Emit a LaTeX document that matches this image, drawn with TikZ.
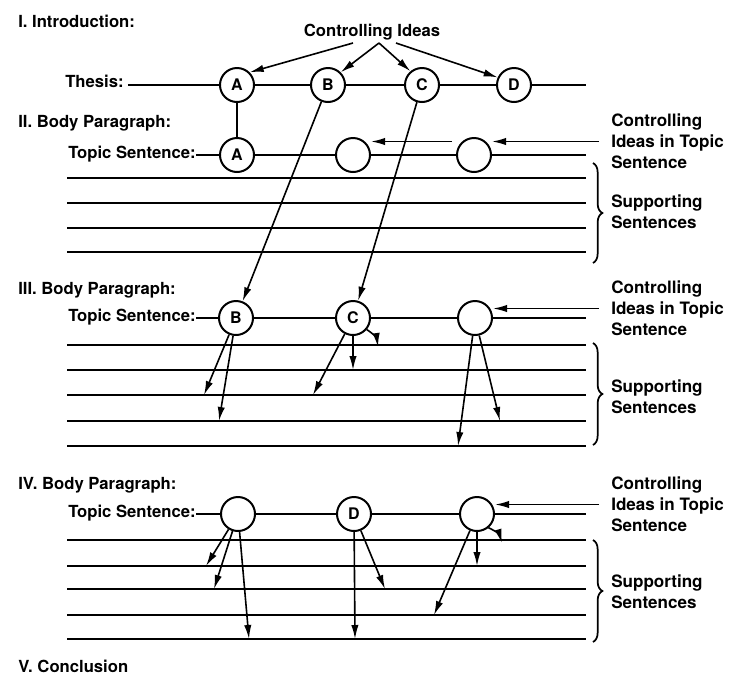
\documentclass[tikz,border=0pt]{standalone}
\usepackage{fontspec}
\setmainfont{TeX Gyre Heros}
\usetikzlibrary{arrows.meta,decorations.pathreplacing}

\tikzset{
  head/.style={font=\fontsize{12.5}{15}\selectfont\bfseries, inner sep=0pt, anchor=base west},
  idea/.style={circle, draw, line width=1.5pt, minimum size=25.5pt, inner sep=0pt,
    font=\fontsize{12}{14}\selectfont\bfseries},
  note/.style={font=\fontsize{12.8}{15.75}\selectfont\bfseries, align=left,
    inner xsep=9pt, inner ysep=0pt, anchor=west},
  topic/.style={line width=1.4pt},
  rule/.style={line width=1.7pt},
  pointer/.style={line width=1.2pt, -{Latex[length=10.5pt,width=5.5pt]}},
  curly/.style={line width=1.3pt, decorate, decoration={brace, amplitude=7pt}},
}

\begin{document}
\begin{tikzpicture}[x=0.75pt, y=-0.75pt]
  \useasboundingbox (0,0) rectangle (732,676);

  % I. introduction with the thesis
  \node[head] (intro) at (18,27) {I. Introduction:};
  \node[head, anchor=base] (ideas) at (372,36.5) {Controlling Ideas};
  \node[head] (thesis) at (65,87) {Thesis:};
  \node[idea] (A) at (237,85) {A};
  \node[idea] (B) at (328,85) {B};
  \node[idea] (C) at (422,85) {C};
  \node[idea] (D) at (514,85) {D};
  \coordinate (e1) at (586,85);
  \draw[topic] (thesis.east |- A) ++(4,0) -- (A) -- (B) -- (C) -- (D) -- (e1);

  \coordinate (ciA) at (353,43);
  \coordinate (ciB) at (379,43);
  \coordinate (ciD) at (396,43);
  \draw[pointer] (ciA) -- (A.45);
  \draw[pointer] (ciB) -- (B.45);
  \draw[pointer] (ciB) -- (C.130);
  \draw[pointer] (ciD) -- (D.155);

  % II. body paragraph
  \node[head] (body2) at (18,127) {II. Body Paragraph:};
  \node[head] (ts2) at (68,158.5) {Topic Sentence:};
  \node[idea] (A2) at (237,155) {A};
  \node[idea] (Y2) at (353,155) {};
  \node[idea] (Z2) at (474,155) {};
  \coordinate (e2) at (586,155);
  \draw[topic] (ts2.east |- A2) -- (A2) -- (Y2) -- (Z2) -- (e2);
  \draw[topic] (A) -- (A2);
  \node[note] (ctl2) at (599,141.5) {Controlling\\Ideas in Topic\\Sentence};
  \draw[pointer] (ctl2.west) -- (ctl2.west -| Z2.east);
  \draw[pointer] (Z2.west |- ctl2.west) ++(-4,0) -- (ctl2.west -| Y2.east);
  \foreach \y in {178,203,228,252}
    \draw[rule] (67,\y) -- (586,\y);
  \draw[curly] (593,163) -- (593,263);
  \node[note] (sup2) at (599,212) {Supporting\\Sentences};

  % III. body paragraph
  \node[head] (body3) at (18,294) {III. Body Paragraph:};
  \node[head] (ts3) at (68,321.5) {Topic Sentence:};
  \node[idea] (B3) at (236,318) {B};
  \node[idea] (C3) at (353,318) {C};
  \node[idea] (Z3) at (475,318) {};
  \coordinate (e3) at (586,318);
  \draw[topic] (ts3.east |- B3) -- (B3) -- (C3) -- (Z3) -- (e3);
  \node[note] (ctl3) at (599,308.5) {Controlling\\Ideas in Topic\\Sentence};
  \draw[pointer] (ctl3.west) -- (ctl3.west -| Z3.east);
  \foreach \y in {345,370,395,421,446}
    \draw[rule] (67,\y) -- (586,\y);
  \draw[curly] (593,343) -- (593,445);
  \node[note] (sup3) at (599,397) {Supporting\\Sentences};

  \draw[pointer] (B) -- (B3);
  \draw[pointer] (C) -- (C3);
  \foreach \n/\tx/\ty in {B3/204/395, B3/219/421, C3/313/395, C3/353/370,
                          Z3/458/446, Z3/500/421}
    \draw[pointer] (\n) -- (\tx,\ty);
  \draw[pointer] (C3.-40) to[bend left=25] (378,347);

  % IV. body paragraph
  \node[head] (body4) at (18,489) {IV. Body Paragraph:};
  \node[head] (ts4) at (68,517.5) {Topic Sentence:};
  \node[idea] (Y4) at (238,514) {};
  \node[idea] (D4) at (354,514) {D};
  \node[idea] (Z4) at (477,514) {};
  \coordinate (e4) at (586,514);
  \draw[topic] (ts4.east |- Y4) -- (Y4) -- (D4) -- (Z4) -- (e4);
  \node[note] (ctl4) at (599,504.5) {Controlling\\Ideas in Topic\\Sentence};
  \draw[pointer] (ctl4.west) -- (ctl4.west -| Z4.east);
  \foreach \y in {540,566,589,615,639}
    \draw[rule] (67,\y) -- (586,\y);
  \draw[curly] (593,540) -- (593,642);
  \node[note] (sup4) at (599,592) {Supporting\\Sentences};

  \foreach \n/\tx/\ty in {Y4/206/566, Y4/214/589, Y4/249/639, D4/355/639,
                          D4/385/589, Z4/434/615, Z4/477/566}
    \draw[pointer] (\n) -- (\tx,\ty);
  \draw[pointer] (Z4.-50) to[bend left=25] (502,543);

  % V. conclusion
  \node[head] (concl) at (18,672.5) {V. Conclusion};
\end{tikzpicture}
\end{document}
